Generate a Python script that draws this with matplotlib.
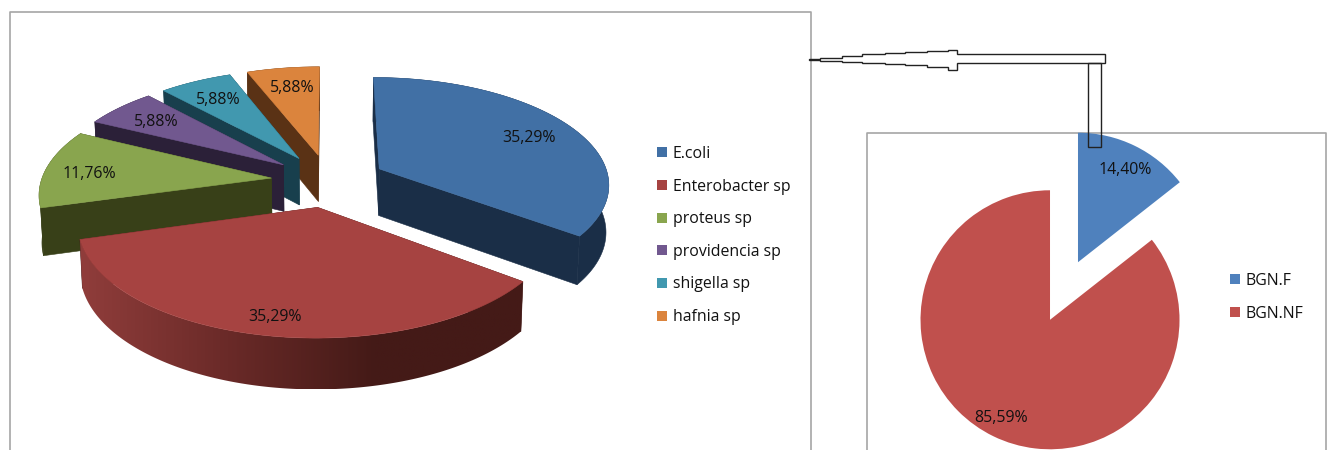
import numpy as np
import matplotlib
matplotlib.use("Agg")
import matplotlib.pyplot as plt
from matplotlib.lines import Line2D
from matplotlib.patches import Polygon
from matplotlib.colors import LinearSegmentedColormap

species = ["E.coli", "Enterobacter sp", "proteus sp", "providencia sp", "shigella sp", "hafnia sp"]
species_pct = [35.29, 35.29, 11.76, 5.88, 5.88, 5.88]
species_top = ["#4170A5", "#A64341", "#89A54E", "#71588F", "#4198AF", "#DB843D"]
species_wall = ["#1A2E47", "#441A17", "#384018", "#2B2038", "#183F4D", "#5A3215"]

groups = ["BGN.F", "BGN.NF"]
groups_pct = [14.40, 85.59]
groups_col = ["#4F81BD", "#C0504D"]

W, H = 1327, 450
plt.rcParams["font.family"] = ["Open Sans", "DejaVu Sans"]
FS = 11.4
fig = plt.figure(figsize=(W / 100, H / 100), dpi=100)
ax = fig.add_axes([0, 0, 1, 1])


def fy(y):
    return H - np.asarray(y, dtype=float)


def pct(v):
    return f"{v:.2f}%".replace(".", ",")


# frames
ax.plot([10, 10, 811, 811], fy([H, 12, 12, H]), color="#A6A6A6", lw=1.2, zorder=1)
ax.plot([867, 867, 1325.5, 1325.5], fy([H, 133, 133, H]), color="#A6A6A6", lw=1.2, zorder=1)

# perspective exploded pie built from the values
CX, CY, RX, RY, PERSP, DEPTH, EXPL = 328.5, 180.5, 230.0, 106.0, 0.13, 47.0, 0.25


def project(X, Y, z=0.0):
    X, Y = np.asarray(X, float), np.asarray(Y, float)
    w = 1 / (1 + PERSP * Y)
    return CX + RX * X * w * (1 - 0.01 * z), fy(CY - RY * Y * w + DEPTH * np.sqrt(w) * z)


fracs = np.array(species_pct) / sum(species_pct)
edges = np.concatenate([[0], np.cumsum(fracs)]) * 2 * np.pi
shade = LinearSegmentedColormap.from_list("wall", ["#903D3B", "#6A2A28", "#441A17", "#441A17"])
draw_order = [5, 4, 3, 2, 0, 1]
z = 3
for i in draw_order:
    a0, a1 = edges[i], edges[i + 1]
    mid = (a0 + a1) / 2
    ox, oy = EXPL * np.sin(mid), EXPL * np.cos(mid)
    arc = np.linspace(a0, a1, 200)
    arc_x, arc_y = ox + np.sin(arc), oy + np.cos(arc)

    # cut faces
    for a in (a0, a1):
        xs = np.array([ox, ox + np.sin(a), ox + np.sin(a), ox])
        ys = np.array([oy, oy + np.cos(a), oy + np.cos(a), oy])
        zs = np.array([0, 0, 1, 1])
        px, py = project(xs, ys, zs)
        ax.fill(px, py, color=species_wall[i], lw=0.4, zorder=z)
    z += 1

    # outer wall
    top_x, top_y = project(arc_x, arc_y, 0)
    bot_x, bot_y = project(arc_x, arc_y, 1)
    wall = np.column_stack([np.r_[top_x, bot_x[::-1]], np.r_[top_y, bot_y[::-1]]])
    if i == 1:
        poly = Polygon(wall, closed=True, fc="none", ec="none", transform=ax.transData)
        ax.add_patch(poly)
        im = ax.imshow(np.linspace(0, 1, 256)[None, :], cmap=shade, aspect="auto",
                       extent=(wall[:, 0].min(), wall[:, 0].max(), wall[:, 1].min(), wall[:, 1].max()),
                       zorder=z)
        im.set_clip_path(poly)
    else:
        ax.fill(wall[:, 0], wall[:, 1], color=species_wall[i], lw=0.4, zorder=z)
    z += 1

    # top face
    ax.fill(*project(np.r_[ox, arc_x], np.r_[oy, arc_y], 0), color=species_top[i], lw=0.4, zorder=z)
    z += 1

label_xy = [(529, 138), (275, 317), (89, 174), (156, 122), (218, 100), (292, 88)]
for v, (lx, ly) in zip(species_pct, label_xy):
    ax.text(lx, fy(ly), pct(v), ha="center", va="center", fontsize=FS, color="#111111", zorder=500)

# flat exploded pie
ax.pie(groups_pct, colors=groups_col, explode=[32, 32], startangle=90, counterclock=False,
       radius=129.5, center=(1064, fy(291)), frame=True, wedgeprops={"linewidth": 0, "zorder": 3})
for v, (lx, ly) in zip(groups_pct, [(1125, 170), (1001, 418)]):
    ax.text(lx, fy(ly), pct(v), ha="center", va="center", fontsize=FS, color="#111111", zorder=500)

# connector arrow between the two charts
arrow_x = [809, 820, 820, 842, 842, 862, 862, 885, 885, 905, 905, 927, 927, 948, 948, 957, 957, 1105, 1105,
           957, 957, 948, 948, 927, 927, 905, 905, 885, 885, 862, 862, 842, 842, 820, 820, 809]
arrow_y = [59, 59, 57.5, 57.5, 55.7, 55.7, 54.3, 54.3, 53.2, 53.2, 52, 52, 51, 51, 49.7, 49.7, 54, 54, 63,
           63, 69.7, 69.7, 66.7, 66.7, 65.3, 65.3, 64, 64, 63, 63, 62, 62, 60.7, 60.7, 59.5, 59.5]
ax.fill(arrow_x, fy(arrow_y), fc="none", ec="#222222", lw=1.0, zorder=600)
ax.fill([1088.3, 1100.7, 1100.7, 1088.3], fy([63, 63, 146.7, 146.7]), fc="none", ec="#222222", lw=1.0, zorder=600)


def legend(labels, colors, x, y, spacing):
    hs = [Line2D([], [], marker="s", ls="none", ms=6.6, color=c, mew=0) for c in colors]
    leg = ax.legend(hs, labels, loc="upper left", bbox_to_anchor=(x, fy(y)),
                    bbox_transform=ax.transData, frameon=False, fontsize=FS,
                    labelspacing=spacing, handlelength=0.8, handletextpad=0.25,
                    borderpad=0, borderaxespad=0, labelcolor="#111111")
    leg.set_zorder(500)
    return leg


l1 = legend(species, species_top, 656, 146, 1.05)
ax.add_artist(l1)
legend(groups, groups_col, 1229, 273, 1.05)

ax.set_aspect("auto")
ax.set_xlim(0, W)
ax.set_ylim(0, H)
ax.axis("off")
fig.savefig("out.png", dpi=100, facecolor="white")
